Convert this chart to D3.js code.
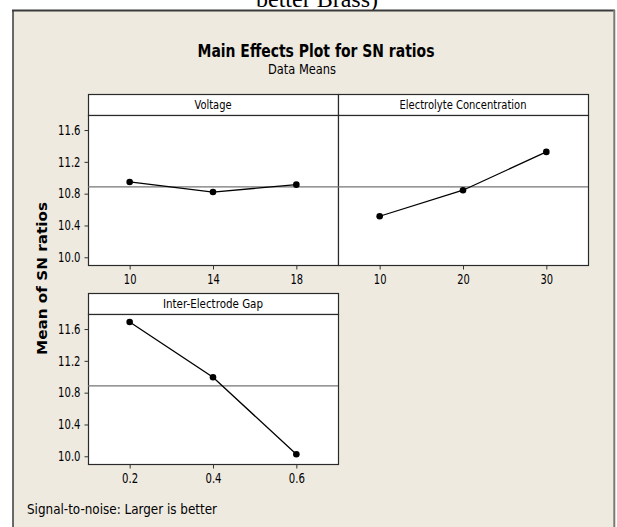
<!DOCTYPE html>
<html>
<head>
<meta charset="utf-8">
<script src="https://cdn.jsdelivr.net/npm/d3@7"></script>
<style>
  html, body { margin: 0; padding: 0; background: #ffffff; }
  svg { display: block; }
  text { font-family: "DejaVu Sans Condensed", "Liberation Sans Narrow", "DejaVu Sans", sans-serif; }
</style>
</head>
<body>
<svg id="chart" width="617" height="527"></svg>
<script>
// ---- data ----
const voltageLevels = ["10", "14", "18"];
const voltageSN = [10.947, 10.82, 10.913];
const concLevels = ["10", "20", "30"];
const concSN = [10.516, 10.843, 11.325];
const gapLevels = ["0.2", "0.4", "0.6"];
const gapSN = [11.688, 10.994, 10.025];
const yTickValues = [10.0, 10.4, 10.8, 11.2, 11.6];
const grandMean = 10.885;
const factorNames = ["Voltage", "Electrolyte Concentration", "Inter-Electrode Gap"];

// ---- layout ----
const W = 617, H = 527;
const svg = d3.select("#chart");
const BG = "#eeeae0";

svg.append("rect").attr("x", 0).attr("y", 0).attr("width", W).attr("height", H).attr("fill", "#ffffff");

// cut-off caption text above frame
svg.append("text")
  .attr("x", 317).attr("y", 7)
  .attr("text-anchor", "middle")
  .style("font-family", "'Liberation Serif', 'DejaVu Serif', serif")
  .style("font-size", "24px")
  .attr("fill", "#000")
  .text("better Brass)");

// frame
svg.append("rect").attr("x", 13).attr("y", 11).attr("width", 601).attr("height", H).attr("fill", BG);
svg.append("line").attr("x1", 12).attr("x2", 615).attr("y1", 10.5).attr("y2", 10.5).attr("stroke", "#3a3a3a").attr("stroke-width", 2);
svg.append("line").attr("x1", 13).attr("x2", 13).attr("y1", 10).attr("y2", H).attr("stroke", "#3a3a3a").attr("stroke-width", 1.5);
svg.append("line").attr("x1", 614.3).attr("x2", 614.3).attr("y1", 10).attr("y2", H).attr("stroke", "#7a7a74").attr("stroke-width", 2);

// titles
svg.append("text")
  .attr("x", 316).attr("y", 57)
  .attr("text-anchor", "middle")
  .style("font-size", "18px").style("font-weight", "bold")
  .attr("textLength", 237).attr("lengthAdjust", "spacingAndGlyphs")
  .text("Main Effects Plot for SN ratios");
svg.append("text")
  .attr("x", 302).attr("y", 74)
  .attr("text-anchor", "middle")
  .style("font-size", "14px")
  .attr("textLength", 68).attr("lengthAdjust", "spacingAndGlyphs")
  .text("Data Means");

// y label
svg.append("text")
  .attr("transform", "translate(47,278.5) rotate(-90)")
  .attr("text-anchor", "middle")
  .style("font-family", "'DejaVu Sans', Verdana, sans-serif")
  .style("font-size", "13.5px").style("font-weight", "bold")
  .attr("textLength", 153).attr("lengthAdjust", "spacingAndGlyphs")
  .text("Mean of SN ratios");

// footer
svg.append("text")
  .attr("x", 27).attr("y", 514)
  .style("font-size", "13.5px")
  .attr("textLength", 190).attr("lengthAdjust", "spacingAndGlyphs")
  .text("Signal-to-noise: Larger is better");

// panels
const panelW = 250, headerH = 21, plotH = 150;
const panels = [
  { name: factorNames[0], levels: voltageLevels, values: voltageSN, x0: 88, y0: 94, showY: true, tl: 37 },
  { name: factorNames[1], levels: concLevels, values: concSN, x0: 338, y0: 94, showY: false, tl: 127 },
  { name: factorNames[2], levels: gapLevels, values: gapSN, x0: 88, y0: 293, showY: true, tl: 100 }
];

function squeeze(sel, perChar) {
  sel.each(function () {
    const t = d3.select(this);
    const s = t.text();
    const w = s.split("").reduce((a, c) => a + (c === "." ? 3.5 : perChar), 0);
    t.attr("textLength", w).attr("lengthAdjust", "spacingAndGlyphs");
  });
}

panels.forEach(p => {
  const top = p.y0 + headerH, bottom = top + plotH;
  const x = d3.scalePoint().domain(p.levels).range([p.x0, p.x0 + panelW]).padding(0.5);
  const y = d3.scaleLinear().domain([9.903, 11.789]).range([bottom, top]);
  const g = svg.append("g");

  // header
  g.append("rect").attr("x", p.x0 + 0.5).attr("y", p.y0 + 0.5).attr("width", panelW).attr("height", headerH)
    .attr("fill", "#ffffff").attr("stroke", "#2a2a2a").attr("stroke-width", 1.2);
  g.append("text").attr("x", p.x0 + panelW / 2).attr("y", p.y0 + 15)
    .attr("text-anchor", "middle").style("font-size", "12.5px")
    .attr("textLength", p.tl).attr("lengthAdjust", "spacingAndGlyphs")
    .text(p.name);

  // plot area
  g.append("rect").attr("x", p.x0 + 0.5).attr("y", top + 0.5).attr("width", panelW).attr("height", plotH)
    .attr("fill", "#ffffff").attr("stroke", "#2a2a2a").attr("stroke-width", 1.2);

  // reference line
  g.append("line").attr("x1", p.x0).attr("x2", p.x0 + panelW)
    .attr("y1", y(grandMean)).attr("y2", y(grandMean))
    .attr("stroke", "#747474").attr("stroke-width", 1.3);

  // x axis
  const xa = g.append("g").attr("transform", `translate(0,${bottom + 0.5})`)
    .call(d3.axisBottom(x).tickSize(4).tickPadding(5).tickSizeOuter(0));
  xa.select(".domain").remove();
  xa.selectAll("line").attr("stroke", "#333");
  xa.selectAll("text").style("font-size", "13.5px").attr("fill", "#000")
    .style("font-family", "'DejaVu Sans Condensed', 'DejaVu Sans', sans-serif");
  squeeze(xa.selectAll("text"), 6.3);

  // y axis
  if (p.showY) {
    const ya = g.append("g").attr("transform", `translate(${p.x0 + 0.5},0)`)
      .call(d3.axisLeft(y).tickValues(yTickValues).tickFormat(d3.format(".1f")).tickSize(4).tickPadding(4).tickSizeOuter(0));
    ya.select(".domain").remove();
    ya.selectAll("line").attr("stroke", "#333");
    ya.selectAll("text").style("font-size", "13.5px").attr("fill", "#000")
      .style("font-family", "'DejaVu Sans Condensed', 'DejaVu Sans', sans-serif");
    squeeze(ya.selectAll("text"), 6.3);
  }

  // data line and points
  const pts = p.levels.map((l, i) => [x(l), y(p.values[i])]);
  g.append("path").attr("d", d3.line()(pts)).attr("fill", "none").attr("stroke", "#000").attr("stroke-width", 1.3);
  g.selectAll("circle.pt").data(pts).enter().append("circle")
    .attr("cx", d => d[0]).attr("cy", d => d[1]).attr("r", 3.3).attr("fill", "#000");
});
</script>
</body>
</html>
